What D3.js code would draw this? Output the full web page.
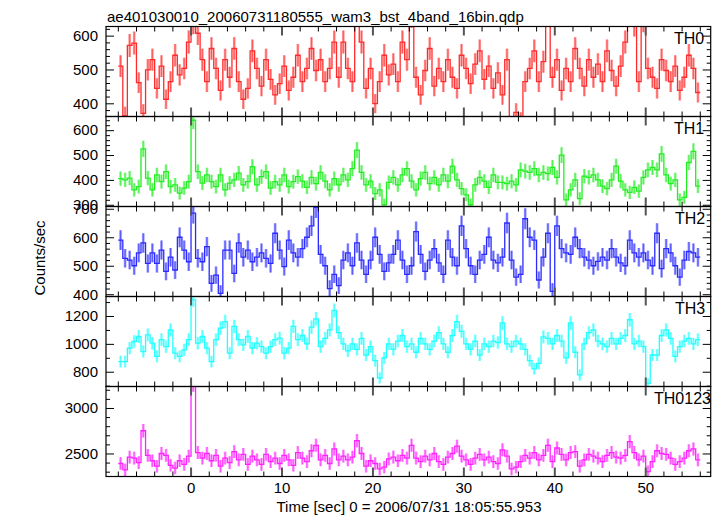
<!DOCTYPE html>
<html><head><meta charset="utf-8">
<script src="https://cdn.jsdelivr.net/npm/d3@7"></script>
<style>body{margin:0;background:#fff}svg{display:block}</style>
</head><body>
<script>
// ---- data ----
const titleText = "ae401030010_20060731180555_wam3_bst_4band_16bin.qdp";
const xLabel = "Time [sec] 0 = 2006/07/31 18:05:55.953";
const yLabel = "Counts/sec";
const seriesNames = ["TH0", "TH1", "TH2", "TH3", "TH0123"];
const binStart = -7.7;   // centre of first 0.5 s bin
const binWidth = 0.5;
const xTicks = [0, 10, 20, 30, 40, 50];

const th0 = [510,363,571,578,461,370,499,529,444,510,
412,464,542,484,503,581,640,607,529,464,
562,503,438,529,477,562,464,412,444,555,
503,451,529,471,425,458,510,438,477,542,
464,503,562,497,529,464,503,581,477,581,
503,464,666,581,444,503,399,464,542,484,
516,464,581,529,659,477,425,497,562,451,
503,464,529,477,444,542,503,458,516,555,
471,510,444,490,425,529,321,373,347,464,
503,555,464,523,666,477,529,438,503,464,
562,503,451,529,477,516,464,555,497,451,
510,581,666,633,464,646,503,477,444,529,
497,464,510,438,477,542,503,432];
const th1 = [405,400,407,360,373,525,407,360,420,393,
433,373,380,347,367,393,640,433,387,420,
393,373,420,360,387,400,427,380,393,453,
380,413,433,367,393,380,420,373,393,413,
395,370,410,385,430,395,360,405,380,420,
400,445,520,430,380,395,345,360,300,390,
410,380,420,445,395,360,405,430,385,410,
380,420,395,455,400,365,340,300,380,410,
395,370,420,390,390,385,395,380,440,435,
430,445,420,430,425,450,410,500,320,360,
400,325,415,410,420,400,375,365,400,455,
395,360,350,370,355,410,440,450,440,505,
420,385,400,320,330,470,515,375];
const th2 = [590,526,520,500,545,580,508,545,508,555,
480,530,485,600,555,514,685,526,514,567,
438,467,403,555,555,473,580,530,555,514,
530,545,526,508,614,555,497,590,545,530,
560,600,640,705,540,500,420,470,430,520,
545,500,580,520,470,520,600,540,480,510,
540,590,520,470,500,620,540,480,520,560,
510,470,590,530,500,640,560,500,470,520,
540,600,520,510,530,650,520,460,470,665,
600,590,450,530,614,410,640,560,545,540,
600,560,530,520,500,515,530,520,560,530,
510,500,590,545,530,545,520,500,614,490,
560,545,500,460,520,550,545,530];
const th3 = [873,873,970,1017,1053,945,1065,1005,910,1030,
980,1100,933,910,957,1030,1317,1005,1053,970,
873,1030,1113,1160,933,1125,1030,993,1053,970,
1005,980,933,980,1030,1041,933,970,1125,1030,
1060,1000,1120,1180,980,1040,1100,1240,1080,1000,
950,1000,960,1040,920,980,880,755,900,1000,
960,1020,1060,980,1000,940,1040,1000,960,1020,
1080,1000,940,1060,1160,1090,1000,960,1020,920,
1000,980,1020,1010,1150,1000,980,1020,1000,960,
880,820,860,1050,1040,1000,1060,1020,900,1150,
940,777,1000,1080,1100,1020,1000,980,1040,1000,
1040,1060,1173,1000,1020,980,717,920,920,1060,
1100,1040,910,980,1020,1040,1000,1030];
const th0123 = [2390,2320,2460,2450,2400,2750,2480,2420,2360,2500,
2480,2370,2340,2420,2380,2470,3260,2510,2450,2500,
2420,2480,2360,2450,2400,2520,2430,2490,2380,2470,
2430,2380,2490,2410,2450,2390,2480,2430,2370,2510,
2450,2410,2530,2590,2430,2480,2390,2550,2430,2470,
2430,2460,2640,2500,2360,2420,2390,2330,2350,2440,
2460,2420,2480,2450,2590,2450,2410,2470,2430,2500,
2410,2380,2460,2500,2580,2470,2430,2380,2450,2490,
2430,2460,2410,2390,2540,2470,2330,2350,2410,2480,
2450,2510,2430,2480,2590,2410,2560,2490,2430,2510,
2520,2360,2430,2490,2470,2450,2410,2480,2510,2460,
2450,2480,2630,2510,2430,2470,2300,2410,2530,2500,
2490,2450,2380,2410,2450,2530,2550,2430];

const seriesValues = [th0, th1, th2, th3, th0123];
const seriesColors = ["#ff2a2a", "#22ee22", "#2a2aff", "#22ffff", "#ff22ff"];
const yDomains = [[361, 627], [293, 655], [392, 708], [694, 1340], [2247, 3236]];
const yMajor = [[400, 500, 600], [300, 400, 500, 600], [400, 500, 600, 700], [800, 1000, 1200], [2500, 3000]];
const yMinorStep = [20, 20, 20, 100, 100];
const labelX = [674, 674, 675, 675, 654];

// ---- layout ----
const W = 717, H = 516;
const L = 106, R = 710.7, T = 26.5, PH = 90;
const font = "'Liberation Sans', Arial, Helvetica, sans-serif";

const svg = d3.select("body").append("svg").attr("width", W).attr("height", H)
  .style("font-family", font);

const x = d3.scaleLinear().domain([-9.3, 57.2]).range([L, R]);
const minorX = d3.range(-8, 57, 2).filter(v => v % 10 !== 0);

svg.append("text").attr("x", 107).attr("y", 22).attr("font-size", 15).text(titleText);

seriesNames.forEach((name, k) => {
  const top = T + k * PH, bot = top + PH;
  const y = d3.scaleLinear().domain(yDomains[k]).range([bot, top]);
  const g = svg.append("g");
  const clipId = "clip" + k;
  svg.append("clipPath").attr("id", clipId).append("rect")
    .attr("x", L).attr("y", top).attr("width", R - L).attr("height", PH);

  const vals = seriesValues[k];
  // Poisson error of a rate in a 0.5 s bin
  const pts = vals.map((v, i) => ({t: binStart + i * binWidth, v: v, e: Math.sqrt(v / binWidth)}));
  const col = seriesColors[k];
  const dg = g.append("g").attr("clip-path", `url(#${clipId})`);
  dg.selectAll("line.eh").data(pts).join("line")
    .attr("x1", d => x(d.t)).attr("x2", d => x(d.t))
    .attr("y1", d => y(d.v - d.e)).attr("y2", d => y(d.v + d.e))
    .attr("stroke", col).attr("stroke-opacity", 0.5).attr("stroke-width", 2.6);
  dg.selectAll("line.ec").data(pts).join("line")
    .attr("x1", d => x(d.t)).attr("x2", d => x(d.t))
    .attr("y1", d => y(d.v - d.e)).attr("y2", d => y(d.v + d.e))
    .attr("stroke", col).attr("stroke-opacity", 0.7).attr("stroke-width", 0.8);
  // step line across each bin
  const stepPts = pts.flatMap(d => [[d.t - binWidth / 2, d.v], [d.t + binWidth / 2, d.v]]);
  dg.append("path").datum(stepPts)
    .attr("d", d3.line().x(d => x(d[0])).y(d => y(d[1])))
    .attr("fill", "none").attr("stroke", col).attr("stroke-width", 1.3);

  // axes
  const minorY = d3.range(Math.ceil(yDomains[k][0] / yMinorStep[k]) * yMinorStep[k], yDomains[k][1], yMinorStep[k])
    .filter(v => !yMajor[k].includes(v));
  const yMaj = yMajor[k].filter(v => v >= yDomains[k][0] && v <= yDomains[k][1]);
  const styleAxis = sel => { sel.select(".domain").remove(); sel.selectAll("line").attr("stroke", "#000"); };

  g.append("g").attr("transform", `translate(${L},0)`)
    .call(d3.axisLeft(y).tickValues(yMaj).tickSize(-8).tickPadding(8).tickFormat(d3.format("d")))
    .call(styleAxis)
    .call(s => s.selectAll("text").attr("font-size", 15).attr("fill", "#000").style("font-family", font));
  g.append("g").attr("transform", `translate(${L},0)`)
    .call(d3.axisLeft(y).tickValues(minorY).tickSize(-4).tickFormat(""))
    .call(styleAxis);
  g.append("g").attr("transform", `translate(${R},0)`)
    .call(d3.axisRight(y).tickValues(yMaj).tickSize(-8).tickFormat(""))
    .call(styleAxis);
  g.append("g").attr("transform", `translate(${R},0)`)
    .call(d3.axisRight(y).tickValues(minorY).tickSize(-4).tickFormat(""))
    .call(styleAxis);

  const xmaj = d3.axisBottom(x).tickValues(xTicks).tickSize(-9).tickPadding(6);
  const gb = g.append("g").attr("transform", `translate(0,${bot})`)
    .call(xmaj).call(styleAxis);
  gb.selectAll("line").attr("stroke", "#555").attr("stroke-width", 2);
  if (k === seriesNames.length - 1) {
    gb.selectAll("text").attr("font-size", 15).attr("fill", "#000").style("font-family", font);
  } else gb.selectAll("text").remove();
  g.append("g").attr("transform", `translate(0,${bot})`)
    .call(d3.axisBottom(x).tickValues(minorX).tickSize(-5).tickFormat("")).call(styleAxis);
  const gt = g.append("g").attr("transform", `translate(0,${top})`)
    .call(d3.axisTop(x).tickValues(xTicks).tickSize(-9).tickFormat("")).call(styleAxis);
  gt.selectAll("line").attr("stroke", "#555").attr("stroke-width", 2);
  g.append("g").attr("transform", `translate(0,${top})`)
    .call(d3.axisTop(x).tickValues(minorX).tickSize(-5).tickFormat("")).call(styleAxis);

  g.append("rect").attr("x", L).attr("y", top).attr("width", R - L).attr("height", PH)
    .attr("fill", "none").attr("stroke", "#000").attr("stroke-width", 1.2);

  g.append("text").attr("x", labelX[k]).attr("y", top + 17).attr("font-size", 16).text(name);
});

svg.append("text").attr("x", 409).attr("y", 512).attr("text-anchor", "middle")
  .attr("font-size", 15).text(xLabel);
svg.append("text").attr("transform", "translate(45,258) rotate(-90)").attr("text-anchor", "middle")
  .attr("font-size", 15).text(yLabel);
</script>
</body></html>
